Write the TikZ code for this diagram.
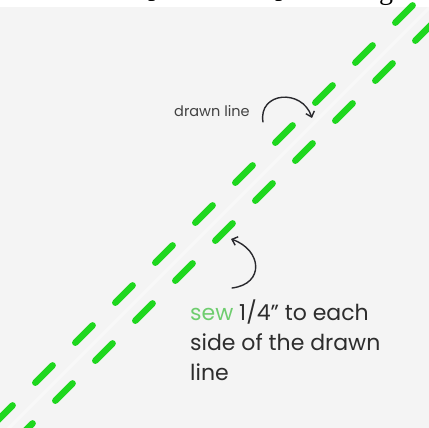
\documentclass[tikz,border=0pt]{standalone}
\usepackage{fontspec}
\setmainfont{Poppins}
\newfontfamily\capfont{Liberation Serif}
\usetikzlibrary{arrows.meta}
\definecolor{bggray}{RGB}{244,244,244}
\definecolor{seamgreen}{RGB}{30,215,30}
\definecolor{softgreen}{RGB}{110,205,110}
\definecolor{inkgray}{RGB}{45,45,45}
\definecolor{arrowgray}{RGB}{40,40,45}
\tikzset{
  seam/.style={draw=seamgreen, line width=6.5pt, line cap=round, dash pattern=on 24.5pt off 32.07pt},
  drawnline/.style={draw=white, line width=3pt, opacity=0.45},
  pointer/.style={draw=arrowgray, line width=1.4pt, line cap=round, -{Straight Barb[length=5pt,width=9pt]}},
  lbl/.style={inner sep=0pt, text=inkgray, font=\fontsize{22}{30}\selectfont},
  smalllbl/.style={inner sep=0pt, text=inkgray!90, font=\fontsize{14.5}{16}\selectfont},
  capt/.style={inner sep=0pt, text=black, font=\capfont\fontsize{28}{30}\selectfont}
}
\begin{document}
\begin{tikzpicture}[x=1pt,y=-1pt]
\useasboundingbox (0,0) rectangle (429,428);
\fill[white] (0,0) rectangle (429,428);
\fill[bggray] (0,7) rectangle (429,428);
% cut-off caption above (only descenders show in the reference)
\node[capt, anchor=base] (c1) at (155,-4) {p};
\node[capt, anchor=base] (c2) at (282,-4) {p};
\node[capt, anchor=base] (c3) at (386,0) {g};
% drawn line and seams
\coordinate (dl0) at (-20,457);
\coordinate (dl1) at (457,-20);
\draw[drawnline] (dl0) -- (dl1);
\coordinate (a0) at (-4.7,422.7);
\coordinate (a1) at (440,-22);
\draw[seam] (a0) -- (a1);
\coordinate (b0) at (15.3,440.7);
\coordinate (b1) at (480,-24);
\draw[seam] (b0) -- (b1);
% labels
\node[smalllbl, anchor=base west] (dlab) at (174,117) {drawn line};
\coordinate (p1s) at (263,122);
\coordinate (p1e) at (312,118);
\draw[pointer] (p1s) .. controls (258,92) and (302,88) .. (p1e);
\node[lbl, anchor=base west] (s1) at (190,320) {\textcolor{softgreen}{sew} 1/4\symbol{34} to each};
\node[lbl, anchor=base west] (s2) at (190,350) {side of the drawn};
\node[lbl, anchor=base west] (s3) at (190,380) {line};
\coordinate (p2s) at (232,288);
\coordinate (p2e) at (231,239);
\draw[pointer] (p2s) .. controls (265,284) and (262,250) .. (p2e);
\end{tikzpicture}
\end{document}
